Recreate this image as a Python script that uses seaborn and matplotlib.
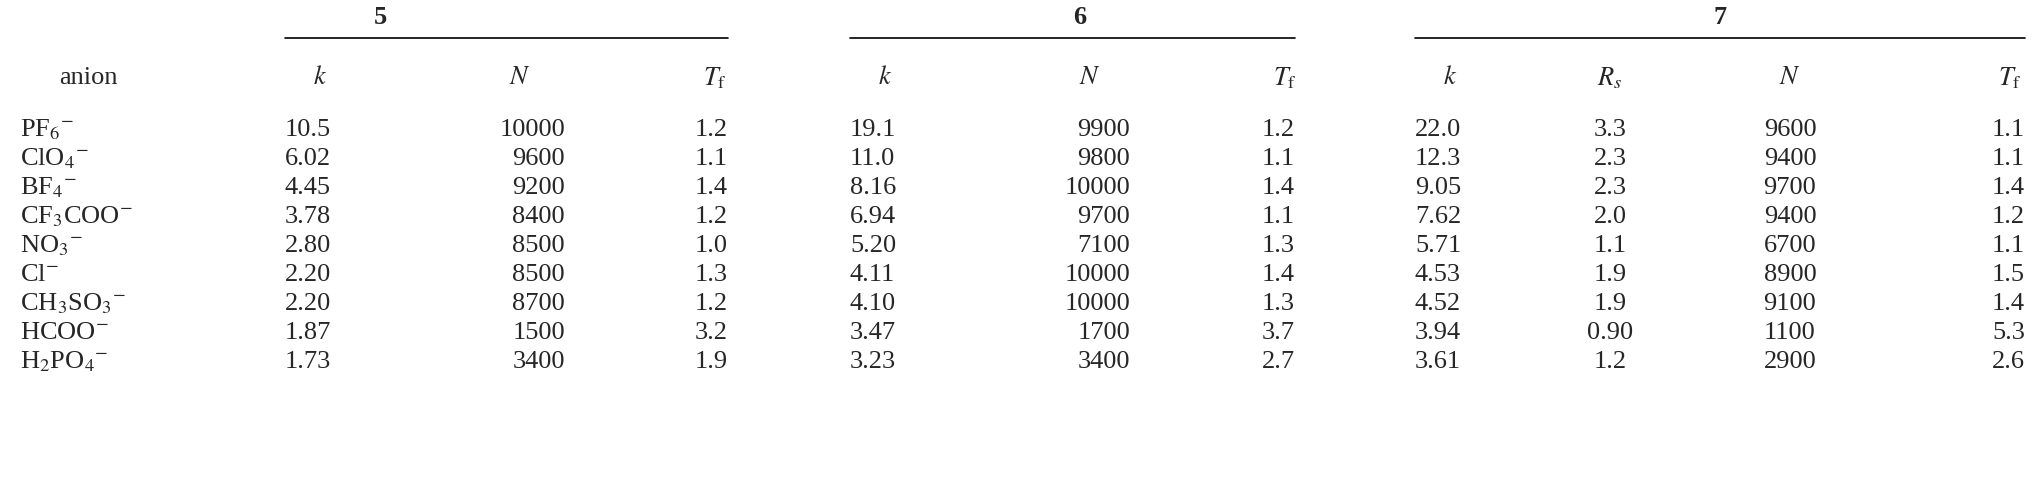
import matplotlib
matplotlib.use("Agg")
import matplotlib.pyplot as plt
import seaborn as sns

sns.set_theme(style="white")
plt.rcParams['font.family'] = ['Liberation Serif', 'DejaVu Serif']
plt.rcParams['mathtext.fontset'] = 'stix'

anions = [r"PF$_6$$^{-}$", r"ClO$_4$$^{-}$", r"BF$_4$$^{-}$", r"CF$_3$COO$^{-}$", r"NO$_3$$^{-}$",
          r"Cl$^{-}$", r"CH$_3$SO$_3$$^{-}$", r"HCOO$^{-}$", r"H$_2$PO$_4$$^{-}$"]
k5 = ["10.5", "6.02", "4.45", "3.78", "2.80", "2.20", "2.20", "1.87", "1.73"]
n5 = ["10000", "9600", "9200", "8400", "8500", "8500", "8700", "1500", "3400"]
t5 = ["1.2", "1.1", "1.4", "1.2", "1.0", "1.3", "1.2", "3.2", "1.9"]
k6 = ["19.1", "11.0", "8.16", "6.94", "5.20", "4.11", "4.10", "3.47", "3.23"]
n6 = ["9900", "9800", "10000", "9700", "7100", "10000", "10000", "1700", "3400"]
t6 = ["1.2", "1.1", "1.4", "1.1", "1.3", "1.4", "1.3", "3.7", "2.7"]
k7 = ["22.0", "12.3", "9.05", "7.62", "5.71", "4.53", "4.52", "3.94", "3.61"]
r7 = ["3.3", "2.3", "2.3", "2.0", "1.1", "1.9", "1.9", "0.90", "1.2"]
n7 = ["9600", "9400", "9700", "9400", "6700", "8900", "9100", "1100", "2900"]
t7 = ["1.1", "1.1", "1.4", "1.2", "1.1", "1.5", "1.4", "5.3", "2.6"]

W, H = 2033, 479
fig = plt.figure(figsize=(W / 100, H / 100), dpi=100)
FS = 19


def put(x, y, s, ha="left", **kw):
    fig.text(x / W, 1 - y / H, s, ha=ha, va="center", fontsize=FS, **kw)


# group headers and rules
for label, xc, x0, x1 in [("5", 380, 285, 728), ("6", 1080, 850, 1295), ("7", 1720, 1415, 2025)]:
    put(xc, 18, label, ha="center", fontweight="bold")
    fig.add_artist(plt.Line2D([x0 / W, x1 / W], [1 - 38 / H] * 2, color="black", lw=1.2))

put(88, 78, "anion", ha="center")
heads = [(320, r"$k$"), (520, r"$N$"), (715, r"$T_{\rm f}$"),
         (885, r"$k$"), (1090, r"$N$"), (1285, r"$T_{\rm f}$"),
         (1450, r"$k$"), (1610, r"$R_s$"), (1790, r"$N$"), (2010, r"$T_{\rm f}$")]
for x, s in heads:
    put(x, 78, s, ha="center")

cols = [(20, anions, "left"), (285, k5, "left"), (565, n5, "right"), (728, t5, "right"),
        (850, k6, "left"), (1130, n6, "right"), (1295, t6, "right"),
        (1415, k7, "left"), (1610, r7, "center"), (1790, n7, "center"), (2025, t7, "right")]
y0, dy = 130, 29
for x, vals, ha in cols:
    for i, v in enumerate(vals):
        put(x, y0 + i * dy, v, ha=ha)

fig.savefig("out.png", dpi=100, facecolor="white")
